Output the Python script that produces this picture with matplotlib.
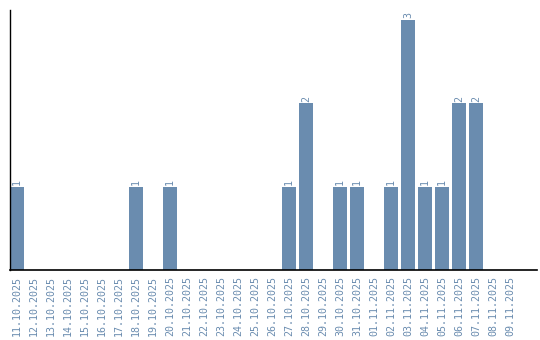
import matplotlib
matplotlib.use("Agg")
import matplotlib.pyplot as plt

# dates (one per day) and counts
datas = ["11.10.2025", "12.10.2025", "13.10.2025", "14.10.2025", "15.10.2025",
         "16.10.2025", "17.10.2025", "18.10.2025", "19.10.2025", "20.10.2025",
         "21.10.2025", "22.10.2025", "23.10.2025", "24.10.2025", "25.10.2025",
         "26.10.2025", "27.10.2025", "28.10.2025", "29.10.2025", "30.10.2025",
         "31.10.2025", "01.11.2025", "02.11.2025", "03.11.2025", "04.11.2025",
         "05.11.2025", "06.11.2025", "07.11.2025", "08.11.2025", "09.11.2025"]
valores = [1, 0, 0, 0, 0, 0, 0, 1, 0, 1,
           0, 0, 0, 0, 0, 0, 1, 2, 0, 1,
           1, 0, 1, 3, 1, 1, 2, 2, 0, 0]

cor = "#6a8caf"
largura = 14 / 17

fig = plt.figure(figsize=(5.4, 3.4), dpi=100)
ax = fig.add_axes([10 / 540, 70 / 340, 527 / 540, 260 / 340])

x = list(range(len(datas)))
ax.bar(x, valores, width=largura, align="edge", color=cor)

# value labels above non-empty bars
for i, v in enumerate(valores):
    if v > 0:
        ax.text(i + largura / 2, v + 0.02, str(v), rotation=90, ha="center", va="bottom",
                color=cor, fontsize=7.2, family="DejaVu Sans Mono")

ax.set_xlim(0, 31)
ax.set_ylim(0, 3.12)
ax.set_xticks([i + largura / 2 for i in x])
ax.set_xticklabels(datas, rotation=90, color=cor, fontsize=7.2, family="DejaVu Sans Mono")
ax.tick_params(axis="x", length=0, pad=4)
ax.set_yticks([])

for lado in ["top", "right"]:
    ax.spines[lado].set_visible(False)
ax.spines["left"].set_linewidth(1)
ax.spines["bottom"].set_linewidth(1.2)

plt.savefig("out.png", dpi=100)
